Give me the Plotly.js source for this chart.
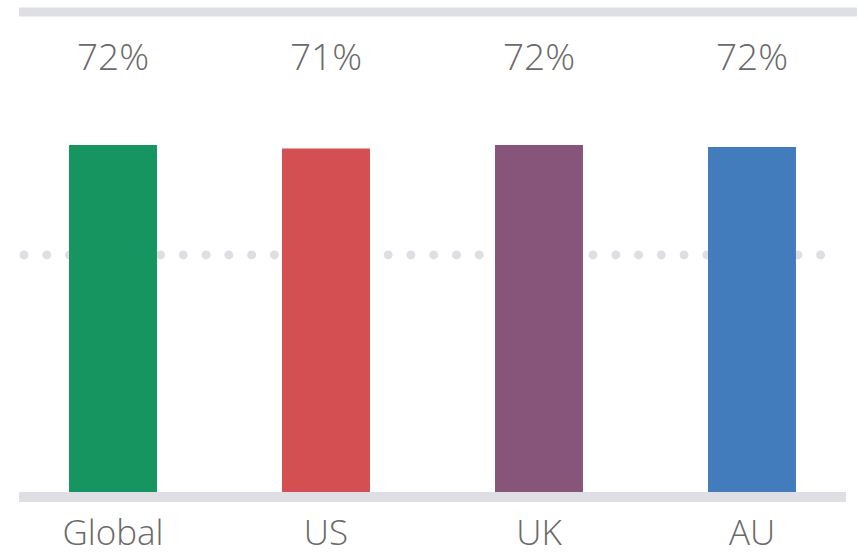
<!DOCTYPE html>
<html>
<head>
<meta charset="utf-8">
<script src="https://cdn.plot.ly/plotly-3.0.1.min.js"></script>
<style>html,body{margin:0;padding:0;background:#fff;}#chart{width:857px;height:556px;}</style>
</head>
<body>
<div id="chart"></div>
<script>
// Data
const categories = ["Global", "US", "UK", "AU"];
const values = [72.0, 71.3, 72.0, 71.6];
const labels = ["72%", "71%", "72%", "72%"];
const barColors = ["#169560", "#d34f51", "#865579", "#437cbd"];
const referenceLevel = 49.2;
const topLevel = 99.6;

const grey = "#dedfe4";
const textGrey = "#6a6a6a";
const fontFam = "'Open Sans', 'Noto Sans', sans-serif";

const trace = {
  type: "bar",
  x: categories,
  y: values,
  marker: { color: barColors, line: { width: 0 } },
  width: 0.413,
  hoverinfo: "skip"
};

const annotations = categories.map((c, i) => ({
  x: c, y: 90.6, xref: "x", yref: "y",
  text: labels[i], showarrow: false,
  xanchor: "center", yanchor: "middle",
  font: { family: fontFam, size: 37, color: textGrey, weight: 300 }
}));

const layout = {
  width: 857, height: 556,
  margin: { l: 0, r: 0, t: 0, b: 54, pad: 0 },
  paper_bgcolor: "#fff", plot_bgcolor: "#fff",
  showlegend: false,
  xaxis: {
    range: [-0.5305, 3.493],
    showgrid: false, zeroline: false, showline: false,
    ticks: "", ticklabelstandoff: 7,
    tickfont: { family: fontFam, size: 35, color: textGrey, weight: 300 },
    fixedrange: true
  },
  yaxis: {
    range: [-2.075, 102.1],
    showgrid: false, zeroline: false, showline: false,
    showticklabels: false, ticks: "",
    fixedrange: true
  },
  annotations: annotations,
  shapes: [
    { type: "line", layer: "below", xref: "paper", yref: "y",
      x0: 24 / 857, x1: 843 / 857, y0: referenceLevel, y1: referenceLevel,
      line: { color: grey, width: 9, dash: "8px,14.7px" } },
    { type: "line", layer: "above", xref: "paper", yref: "y",
      x0: 19 / 857, x1: 1, y0: topLevel, y1: topLevel,
      line: { color: grey, width: 9 } },
    { type: "rect", layer: "above", xref: "paper", yref: "y",
      x0: 19 / 857, x1: 846 / 857, y0: -2.075, y1: 0,
      line: { width: 0 }, fillcolor: grey }
  ]
};

Plotly.newPlot("chart", [trace], layout, { displayModeBar: false, staticPlot: true }).then(() => {
  const paths = document.querySelectorAll(".layer-below .shapelayer path");
  paths.forEach(p => {
    p.style.strokeLinecap = "round";
    p.style.strokeDasharray = "0.01px,22.75px";
  });
});
</script>
</body>
</html>
